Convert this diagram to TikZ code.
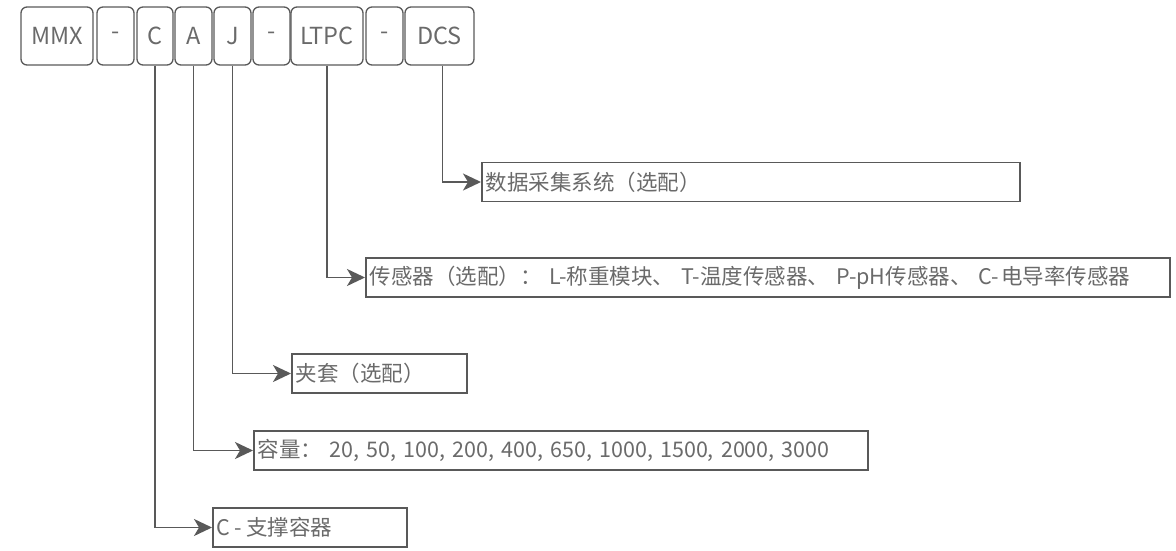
\documentclass[tikz,border=0pt]{standalone}
\usepackage{fontspec}
\setmainfont{Noto Sans CJK SC}
\usepackage{xcolor}
\usetikzlibrary{arrows.meta}
\usetikzlibrary{positioning}

\definecolor{linegray}{HTML}{595959}
\definecolor{textgray}{HTML}{6A6A6A}

\begin{document}
\begin{tikzpicture}[
        x=1pt, y=-1pt,
        seg/.style={draw=linegray, line width=1.3pt, rounded corners=6pt,
            minimum height=58pt, inner sep=0pt, text=textgray,
            font=\fontsize{23.5}{28}\selectfont},
        infobox/.style={draw=linegray, line width=1.8pt, anchor=west,
            minimum height=39pt, inner xsep=4pt, inner ysep=0pt, align=left,
            text=textgray, font=\fontsize{21.5}{26}\selectfont},
        conn/.style={draw=linegray, line width=1.9pt,
            -{Stealth[length=18pt, width=17pt, inset=5pt]}}
    ]
        \useasboundingbox (0,0) rectangle (1176,551);

        % Model code segments
        \foreach \name/\cx/\w/\label in {
            mmx/57/72/MMX,
            dasha/115.5/37/-,
            c/155/36/C,
            a/193.5/37/A,
            j/232.5/37/J,
            dashb/271.5/37/-,
            ltpc/327/72/LTPC,
            dashc/384.5/37/-,
            dcs/439.5/69/DCS
        } {
            \node[seg, minimum width=\w pt] (\name) at (\cx,36) {\label};
        }

        % Option descriptions
        \node[infobox, text width=530pt] (dcsinfo) at (481,182) {数据采集系统（选配）};
        \node[infobox, text width=796pt] (ltpcinfo) at (365,277.5) {传感器（选配）： L-称重模块、 T-温度传感器、 P-pH传感器、 C-\hspace{2pt}电导率传感器};
        \node[infobox, text width=167pt] (jinfo) at (291,373.5) {夹套（选配）};
        \node[infobox, text width=606pt] (ainfo) at (253,450.5) {容量： 20, 50, 100, 200, 400, 650, 1000, 1500, 2000, 3000};
        \node[infobox, text width=186pt] (cinfo) at (212,527.5) {C\hspace{4pt}-\hspace{4pt}支撑容器};

        % Connectors
        \draw[conn] ([xshift=3pt]dcs.south) |- (dcsinfo.west);
        \draw[conn] (ltpc.south) |- (ltpcinfo.west);
        \draw[conn] (j.south) |- (jinfo.west);
        \draw[conn] (a.south) |- (ainfo.west);
        \draw[conn] (c.south) |- (cinfo.west);
    \end{tikzpicture}
\end{document}
